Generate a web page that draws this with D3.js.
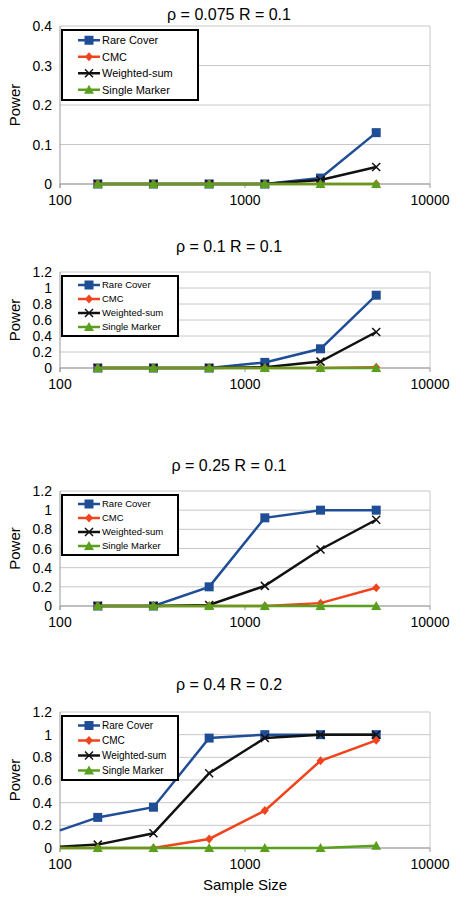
<!DOCTYPE html>
<html><head><meta charset="utf-8">
<script src="https://cdn.jsdelivr.net/npm/d3@7"></script>
<style>body{margin:0;background:#fff;font-family:"Liberation Sans",Arial,sans-serif}</style>
</head><body><div id="canvas"></div>
<script>
var seriesNames = ['Rare Cover','CMC','Weighted-sum','Single Marker'];
var colors = ['#1f4e96','#f0441c','#111111','#5aa01e'];
var sizes = [160,320,640,1280,2560,5120];
var sizes4 = [100,160,320,640,1280,2560,5120];
var titles = ['ρ = 0.075 R = 0.1','ρ = 0.1 R = 0.1','ρ = 0.25 R = 0.1','ρ = 0.4 R = 0.2'];
var p1 = [[0,0,0,0,0.015,0.13],[0,0,0,0,0,0],[0,0,0,0,0.01,0.043],[0,0,0,0,0,0]];
var p2 = [[0,0,0,0.07,0.24,0.91],[0,0,0,0,0,0.01],[0,0,0,0.01,0.08,0.45],[0,0,0,0,0,0]];
var p3 = [[0,0,0.2,0.92,1,1],[0,0,0,0,0.03,0.19],[0,0,0.01,0.21,0.59,0.9],[0,0,0,0,0,0]];
var p4 = [[0.155,0.27,0.36,0.97,1,1,1],[0,0,0,0.08,0.33,0.77,0.95],[0.01,0.03,0.13,0.66,0.97,1,1],[0,0,0,0,0,0,0.02]];
var yMax = [0.4,1.2,1.2,1.2], yStep = [0.1,0.2,0.2,0.2];

var panels = [
  {title:titles[0], xs:sizes, data:p1, top:26, bottom:184, tY:20, lw:136, lh:16.5, fs:11},
  {title:titles[1], xs:sizes, data:p2, top:272, bottom:368, tY:252, lw:116, lh:14, fs:9.5},
  {title:titles[2], xs:sizes, data:p3, top:491, bottom:606, tY:471, lw:116, lh:14, fs:9.5},
  {title:titles[3], xs:sizes4, data:p4, top:712, bottom:848, tY:690, lw:116, lh:15, fs:10}
];

var svg = d3.select('#canvas').append('svg').attr('width',457).attr('height',898);
var x = d3.scaleLog().domain([100,10000]).range([60,430]);

panels.forEach(function(p,i){
  var g = svg.append('g');
  var y = d3.scaleLinear().domain([0,yMax[i]]).range([p.bottom,p.top]);
  var ticks = d3.range(0,yMax[i]+1e-9,yStep[i]);
  g.selectAll('.grid').data(ticks).enter().append('line')
    .attr('x1',60).attr('x2',430).attr('y1',function(d){return y(d);}).attr('y2',function(d){return y(d);})
    .style('stroke','#c8c8c8').style('stroke-width',1);
  g.append('line').attr('x1',430).attr('x2',430).attr('y1',p.top).attr('y2',p.bottom).style('stroke','#c8c8c8');
  g.append('line').attr('x1',60).attr('x2',60).attr('y1',p.top).attr('y2',p.bottom+4).style('stroke','#999');
  g.append('line').attr('x1',60).attr('x2',430).attr('y1',p.bottom).attr('y2',p.bottom).style('stroke','#999');
  [100,1000,10000].forEach(function(t){
    g.append('line').attr('x1',x(t)).attr('x2',x(t)).attr('y1',p.bottom).attr('y2',p.bottom+4).style('stroke','#999');
    g.append('text').attr('x',x(t)).attr('y',p.bottom+21).attr('text-anchor','middle').style('font-size','14px').text(t);
  });
  g.selectAll('.yl').data(ticks).enter().append('text')
    .attr('x',52).attr('y',function(d){return y(d)+5;}).attr('text-anchor','end').style('font-size','14px')
    .text(function(d){return +d.toFixed(1);});
  g.append('text').attr('x',229).attr('y',p.tY).attr('text-anchor','middle').style('font-size','16px').text(p.title);
  g.append('text').attr('transform','translate(20,'+((p.top+p.bottom)/2)+') rotate(-90)')
    .attr('text-anchor','middle').style('font-size','15px').text('Power');

  var line = d3.line().x(function(d){return x(d[0]);}).y(function(d){return y(d[1]);});
  [0,2,1,3].forEach(function(s){
    var pts = p.xs.map(function(v,k){return [v,p.data[s][k]];});
    g.append('path').datum(pts).attr('d',line).style('fill','none').style('stroke',colors[s]).style('stroke-width',2.5);
    var mp = pts.filter(function(d){return d[0]>100;});
    drawMarkers(g,mp,s,x,y);
  });

  // legend
  var lx = 62, ly = p.top+4, lh = p.lh;
  g.append('rect').attr('x',lx).attr('y',ly).attr('width',p.lw).attr('height',lh*4+4)
    .style('fill','#fff').style('stroke','#000').style('stroke-width',2);
  seriesNames.forEach(function(n,s){
    var yy = ly+2+lh/2+s*lh;
    g.append('line').attr('x1',lx+16).attr('x2',lx+38).attr('y1',yy).attr('y2',yy).style('stroke',colors[s]).style('stroke-width',2.5);
    drawMarkers(g,[[0,0]],s,function(){return lx+27;},function(){return yy;});
    g.append('text').attr('x',lx+40).attr('y',yy+p.fs*0.36).style('font-size',p.fs+'px').text(n);
  });
});

svg.append('text').attr('x',245).attr('y',890).attr('text-anchor','middle').style('font-size','15px').text('Sample Size');

function drawMarkers(g,pts,s,x,y){
  pts.forEach(function(d){
    var cx = x(d[0]), cy = y(d[1]);
    if(s===0) g.append('rect').attr('x',cx-4.5).attr('y',cy-4.5).attr('width',9).attr('height',9).style('fill',colors[0]);
    else if(s===1) g.append('path').attr('d','M'+cx+','+(cy-4.5)+'L'+(cx+4)+','+cy+'L'+cx+','+(cy+4.5)+'L'+(cx-4)+','+cy+'Z').style('fill',colors[1]);
    else if(s===2) g.append('path').attr('d','M'+(cx-4)+','+(cy-4)+'L'+(cx+4)+','+(cy+4)+'M'+(cx-4)+','+(cy+4)+'L'+(cx+4)+','+(cy-4)).style('stroke',colors[2]).style('stroke-width',1.5);
    else g.append('path').attr('d','M'+cx+','+(cy-5)+'L'+(cx+5)+','+(cy+4)+'L'+(cx-5)+','+(cy+4)+'Z').style('fill',colors[3]);
  });
}
</script></body></html>
